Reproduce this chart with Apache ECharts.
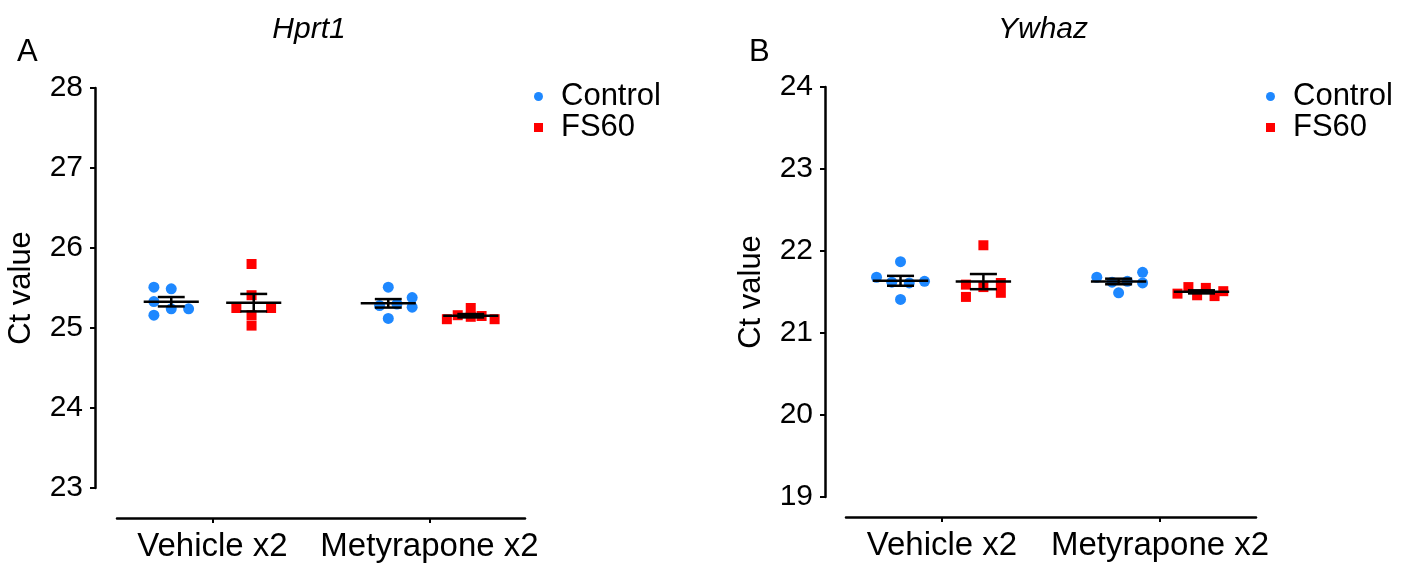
<!DOCTYPE html>
<html>
<head>
<meta charset="utf-8">
<script src="https://cdn.jsdelivr.net/npm/echarts@6/dist/echarts.min.js"></script>
<style>html,body{margin:0;padding:0;background:#fff}#c{width:1419px;height:572px}</style>
</head>
<body>
<div id="c"></div>
<script>
// ---- data ----
var categories = ['Vehicle x2', 'Metyrapone x2'];
var seriesNames = ['Control', 'FS60'];
var panelTitles = ['Hprt1', 'Ywhaz'];
var panelLetters = ['A', 'B'];
var hprtYTicks = [23, 24, 25, 26, 27, 28];
var ywhazYTicks = [19, 20, 21, 22, 23, 24];

// Hprt1 (x = position along category axis, 0 = Vehicle x2, 1 = Metyrapone x2)
var hprtCtrlVehX = [-0.27, -0.19, -0.27, -0.19, -0.11, -0.27];
var hprtCtrlVehY = [25.51, 25.49, 25.33, 25.24, 25.24, 25.16];
var hprtFsVehX = [0.18, 0.18, 0.11, 0.27, 0.18, 0.18];
var hprtFsVehY = [25.80, 25.41, 25.25, 25.25, 25.16, 25.03];
var hprtCtrlMetX = [0.81, 0.92, 0.77, 0.85, 0.92, 0.81];
var hprtCtrlMetY = [25.51, 25.38, 25.28, 25.30, 25.26, 25.12];
var hprtFsMetX = [1.08, 1.13, 1.19, 1.19, 1.24, 1.30];
var hprtFsMetY = [25.11, 25.16, 25.25, 25.14, 25.15, 25.11];

// Ywhaz
var ywCtrlVehX = [-0.19, -0.30, -0.23, -0.15, -0.08, -0.19];
var ywCtrlVehY = [21.87, 21.68, 21.62, 21.61, 21.63, 21.41];
var ywFsVehX = [0.19, 0.11, 0.19, 0.27, 0.11, 0.27];
var ywFsVehY = [22.07, 21.59, 21.56, 21.61, 21.44, 21.49];
var ywCtrlMetX = [0.71, 0.78, 0.85, 0.92, 0.92, 0.81];
var ywCtrlMetY = [21.68, 21.62, 21.63, 21.74, 21.61, 21.49];
var ywFsMetX = [1.08, 1.13, 1.17, 1.21, 1.25, 1.29];
var ywFsMetY = [21.48, 21.56, 21.46, 21.55, 21.45, 21.51];

// ---- helpers ----
function pairs(xs, ys) { return xs.map(function (x, i) { return [x, ys[i]]; }); }
function stats(ys) {
  var n = ys.length, m = ys.reduce(function (a, b) { return a + b; }, 0) / n;
  var v = ys.reduce(function (a, b) { return a + (b - m) * (b - m); }, 0) / (n - 1);
  return [m, Math.sqrt(v) / Math.sqrt(n)];
}
var GROUP_OFF = 0.19;
function barData(groups) {
  return groups.map(function (g) {
    var s = stats(g[2]);
    return [g[0] + g[1] * GROUP_OFF, s[0], s[1]];
  });
}

var FONT = "'Liberation Sans', Arial, Helvetica, sans-serif";
var BLUE = '#1E88FF';
var RED = '#FF0000';

function renderBar(params, api) {
  var x = api.value(0), m = api.value(1), s = api.value(2);
  var c = api.coord([x, m]);
  var lo = api.coord([x, m - s]);
  var hi = api.coord([x, m + s]);
  var hw = api.size([0.127, 0])[0];
  var cw = api.size([0.062, 0])[0];
  var st = { stroke: '#000', lineWidth: 2.5 };
  return {
    type: 'group',
    children: [
      { type: 'line', shape: { x1: c[0] - hw, y1: c[1], x2: c[0] + hw, y2: c[1] }, style: st },
      { type: 'line', shape: { x1: c[0], y1: lo[1], x2: c[0], y2: hi[1] }, style: st },
      { type: 'line', shape: { x1: c[0] - cw, y1: hi[1], x2: c[0] + cw, y2: hi[1] }, style: st },
      { type: 'line', shape: { x1: c[0] - cw, y1: lo[1], x2: c[0] + cw, y2: lo[1] }, style: st }
    ]
  };
}

function xAxisCfg(gi, off) {
  return {
    gridIndex: gi, type: 'value', min: -0.44, max: 1.44, offset: off, position: 'bottom',
    axisLine: { show: true, onZero: false, lineStyle: { color: '#000', width: 2.5 } },
    axisTick: { show: true, customValues: [0, 1], length: 5, lineStyle: { color: '#000', width: 2 } },
    axisLabel: {
      customValues: [0, 1], margin: 12, color: '#000', fontSize: 33, fontFamily: FONT,
      formatter: function (v) { return categories[Math.round(v)]; }
    },
    splitLine: { show: false }
  };
}
function yAxisCfg(gi, ticks, off, gap) {
  return {
    gridIndex: gi, type: 'value', min: ticks[0], max: ticks[ticks.length - 1], interval: 1, offset: off, position: 'left',
    axisLine: { show: true, onZero: false, lineStyle: { color: '#000', width: 2.5 } },
    axisTick: { show: true, length: 5, lineStyle: { color: '#000', width: 2 } },
    axisLabel: { margin: 12, color: '#000', fontSize: 30, fontFamily: FONT },
    splitLine: { show: false },
    name: 'Ct value', nameLocation: 'middle', nameRotate: 90, nameGap: gap,
    nameTextStyle: { color: '#000', fontSize: 31, fontFamily: FONT }
  };
}
function scatter(name, gi, data, color, sym, size) {
  return {
    name: name, type: 'scatter', xAxisIndex: gi, yAxisIndex: gi, data: data,
    symbol: sym, symbolSize: size, itemStyle: { color: color, opacity: 1 }, z: 2
  };
}
function legendCfg(left) {
  return {
    orient: 'vertical', left: left, top: 76, itemWidth: 9, itemHeight: 9, itemGap: 0,
    data: [{ name: seriesNames[0], icon: 'circle' }, { name: seriesNames[1], icon: 'rect' }],
    textStyle: { color: '#000', fontSize: 31, fontFamily: FONT, lineHeight: 30, padding: [0, 0, 0, 13] },
    selectedMode: false
  };
}

var option = {
  backgroundColor: '#fff',
  animation: false,
  title: [
    { text: panelTitles[0], left: 304, top: 10, textAlign: 'center', textStyle: { fontSize: 30, fontStyle: 'italic', fontWeight: 'normal', color: '#000', fontFamily: FONT } },
    { text: panelTitles[1], left: 1038, top: 10, textAlign: 'center', textStyle: { fontSize: 30, fontStyle: 'italic', fontWeight: 'normal', color: '#000', fontFamily: FONT } },
    { text: panelLetters[0], left: 12, top: 32, textStyle: { fontSize: 31, fontWeight: 'normal', color: '#000', fontFamily: FONT } },
    { text: panelLetters[1], left: 744, top: 32, textStyle: { fontSize: 31, fontWeight: 'normal', color: '#000', fontFamily: FONT } }
  ],
  legend: [legendCfg(529), legendCfg(1261)],
  grid: [
    { left: 117, top: 88, width: 408, height: 400 },
    { left: 846, top: 87, width: 410, height: 410 }
  ],
  xAxis: [xAxisCfg(0, 30), xAxisCfg(1, 20)],
  yAxis: [yAxisCfg(0, hprtYTicks, 22, 58), yAxisCfg(1, ywhazYTicks, 21, 58)],
  series: [
    scatter(seriesNames[0], 0, pairs(hprtCtrlVehX, hprtCtrlVehY).concat(pairs(hprtCtrlMetX, hprtCtrlMetY)), BLUE, 'circle', 11),
    scatter(seriesNames[1], 0, pairs(hprtFsVehX, hprtFsVehY).concat(pairs(hprtFsMetX, hprtFsMetY)), RED, 'rect', 10),
    {
      type: 'custom', xAxisIndex: 0, yAxisIndex: 0, z: 5, renderItem: renderBar,
      data: barData([[0, -1, hprtCtrlVehY], [0, 1, hprtFsVehY], [1, -1, hprtCtrlMetY], [1, 1, hprtFsMetY]])
    },
    scatter(seriesNames[0], 1, pairs(ywCtrlVehX, ywCtrlVehY).concat(pairs(ywCtrlMetX, ywCtrlMetY)), BLUE, 'circle', 11),
    scatter(seriesNames[1], 1, pairs(ywFsVehX, ywFsVehY).concat(pairs(ywFsMetX, ywFsMetY)), RED, 'rect', 10),
    {
      type: 'custom', xAxisIndex: 1, yAxisIndex: 1, z: 5, renderItem: renderBar,
      data: barData([[0, -1, ywCtrlVehY], [0, 1, ywFsVehY], [1, -1, ywCtrlMetY], [1, 1, ywFsMetY]])
    }
  ]
};
var chart = echarts.init(document.getElementById('c'), null, { renderer: 'canvas' });
chart.setOption(option);
</script>
</body>
</html>
